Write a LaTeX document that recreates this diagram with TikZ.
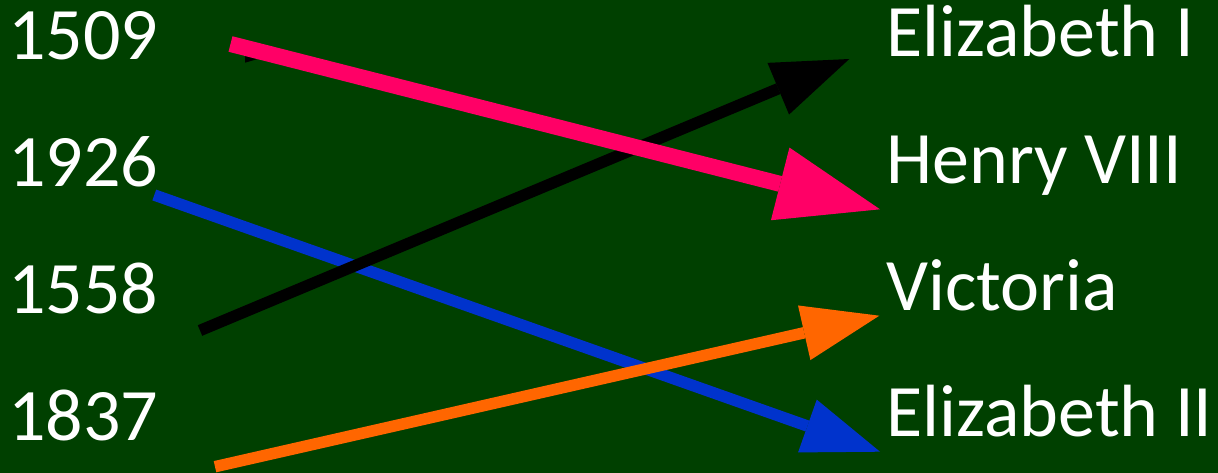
\documentclass[tikz,border=0pt]{standalone}
\usepackage{fontspec}
\setmainfont{Carlito}
\usetikzlibrary{arrows.meta}
\definecolor{bggreen}{RGB}{0,64,0}
\definecolor{apink}{RGB}{255,0,102}
\definecolor{aorange}{RGB}{255,102,0}
\definecolor{ablue}{RGB}{0,51,204}
\tikzset{
  lbl/.style={text=white,inner sep=0pt,anchor=base west,font=\fontsize{74}{80}\selectfont},
  bigarrow/.style={line width=16pt,-{Triangle[length=103pt,width=75pt,line width=0pt]}},
  arr/.style={line width=11.5pt,-{Triangle[length=77pt,width=56pt,line width=0pt]}}
}
\begin{document}
\begin{tikzpicture}[x=1pt,y=-1pt]
\fill[bggreen] (0,0) rectangle (1218,473);
\useasboundingbox (0,0) rectangle (1218,473);
% labels
\node[lbl] (y1509) at (8,60) {1509};
\node[lbl] (y1926) at (8,186.7) {1926};
\node[lbl] (y1558) at (8,313.3) {1558};
\node[lbl] (y1837) at (8,440) {1837};
\node[lbl] (eliz1) at (886,56.7) {Elizabeth I};
\node[lbl] (henry) at (886,183.3) {Henry VIII};
\node[lbl] (vict) at (886,310) {Victoria};
\node[lbl] (eliz2) at (886,436.7) {Elizabeth II};
% arrow end points
\coordinate (ps) at (230.5,44);   \coordinate (pt) at (880,209.3);
\coordinate (ks) at (200,330.5);  \coordinate (kt) at (849.3,59);
\coordinate (bs) at (154.3,195);  \coordinate (bt) at (880,451.7);
\coordinate (os) at (215,466.7);  \coordinate (ot) at (879.3,315.7);
% small black fragment
\fill[black] (245,56) -- (245,62.7) -- (256.7,59.3) -- cycle;
% arrows
\draw[arr,ablue] (bs) -- (bt);
\draw[arr,black] (ks) -- (kt);
\draw[bigarrow,apink] (ps) -- (pt);
\draw[arr,aorange] (os) -- (ot);
\end{tikzpicture}
\end{document}
